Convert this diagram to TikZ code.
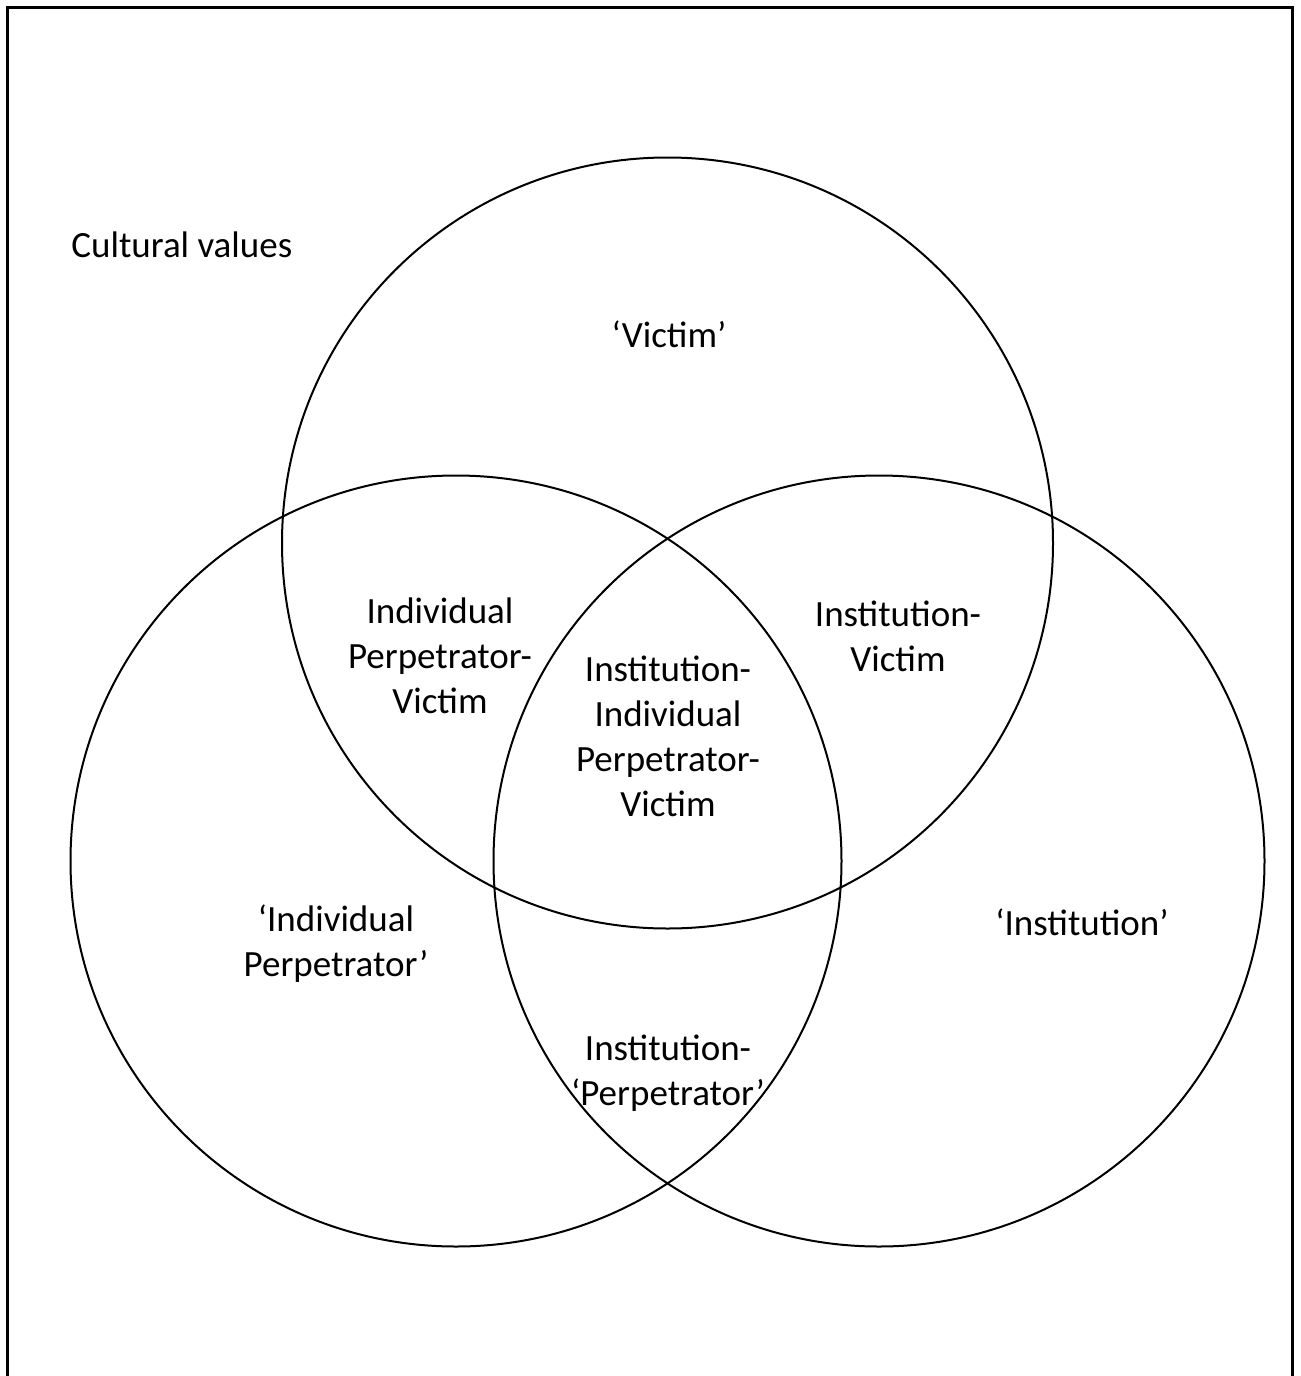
\documentclass[tikz,border=0pt]{standalone}
\usepackage{fontspec}
\setmainfont{Carlito}
\begin{document}
\begin{tikzpicture}[x=0.5pt,y=-0.5pt,
  frame/.style={line width=1.25pt},
  setcircle/.style={line width=1pt},
  lbl/.style={font=\fontsize{18.5}{22.5}\selectfont, align=center, inner sep=0pt}]
\useasboundingbox (0,0) rectangle (1301,1376);
% frame (bottom edge lies beyond the picture)
\draw[frame] (7.5,1376) -- (7.5,7.5) -- (1292.5,7.5) -- (1292.5,1376);
% circles
\draw[setcircle] (667.5,543) circle[radius=385.5];
\draw[setcircle] (456,861) circle[radius=385.5];
\draw[setcircle] (879,861) circle[radius=385.5];
% labels
\node[lbl, anchor=west] (cult) at (71,245) {Cultural values};
\node[lbl] (vic) at (669,334) {‘Victim’};
\node[lbl] (ipv) at (440,656) {Individual\\Perpetrator-\\Victim};
\node[lbl] (inv) at (898,636) {Institution-\\Victim};
\node[lbl] (all) at (668,736) {Institution-\\Individual\\Perpetrator-\\Victim};
\node[lbl] (ip) at (336,944) {‘Individual\\Perpetrator’};
\node[lbl] (ins) at (1082,922) {‘Institution’};
\node[lbl] (inp) at (668,1073) {Institution-\\‘Perpetrator’};
\end{tikzpicture}
\end{document}
